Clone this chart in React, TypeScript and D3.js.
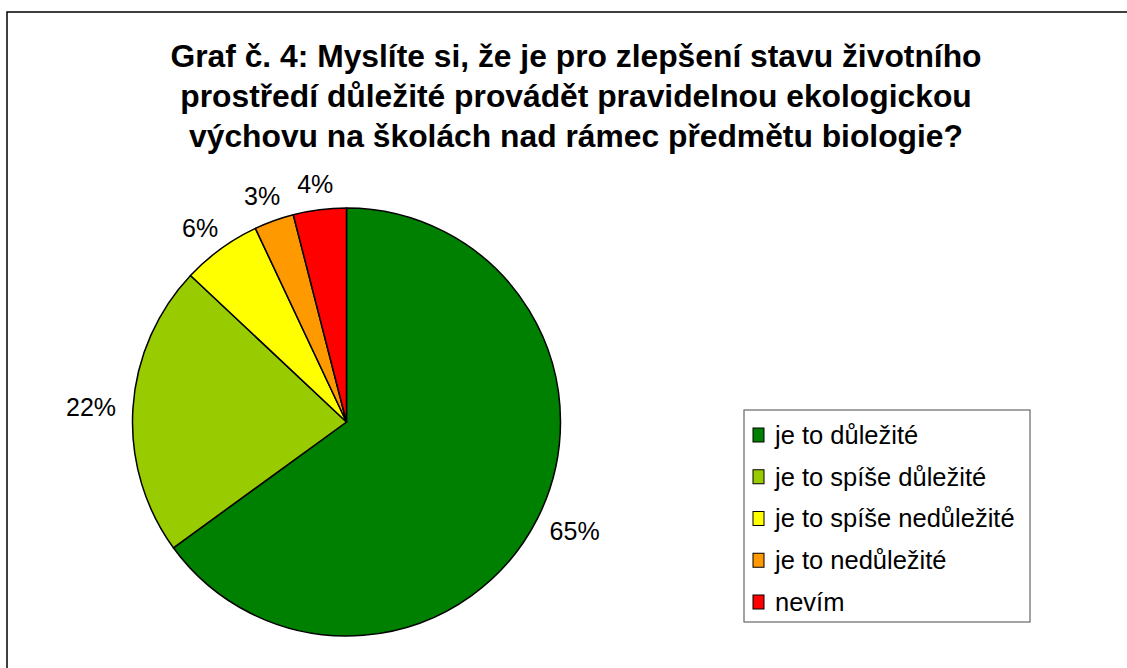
import React from "react";
import * as d3 from "d3";

const categories = [
  "je to důležité",
  "je to spíše důležité",
  "je to spíše nedůležité",
  "je to nedůležité",
  "nevím",
];
const values = [65, 22, 6, 3, 4];
const colors = ["#008000", "#99CC00", "#FFFF00", "#FF9900", "#FF0000"];
const titleLines = [
  "Graf č. 4: Myslíte si, že je pro zlepšení stavu životního",
  "prostředí důležité provádět pravidelnou ekologickou",
  "výchovu na školách nad rámec předmětu biologie?",
];

const W = 1127;
const H = 668;
const cx = 346.5;
const cy = 422;
const R = 214;
const FONT = "'Liberation Sans', Arial, sans-serif";

export default function App() {
  const pie = d3.pie<number>().sort(null).value((d) => d);
  const arcs = pie(values);
  const arcGen = d3.arc<d3.PieArcDatum<number>>().innerRadius(0).outerRadius(R);

  const labelFont = 25;
  const labelPos = (a: d3.PieArcDatum<number>, text: string) => {
    const mid = (a.startAngle + a.endAngle) / 2;
    const s = Math.sin(mid);
    const c = Math.cos(mid);
    const gap = 17;
    const nd = text.length - 1;
    const halfW = (nd * 0.556 + 0.889) * labelFont / 2;
    const halfH = 9;
    return {
      x: (R + gap) * s + s * halfW,
      y: -(R + gap) * c - c * halfH,
    };
  };

  const legendX = 744;
  const legendY = 410;
  const legendW = 286;
  const legendH = 212;
  const rowStart = 435;
  const rowStep = 41.75;

  return (
    <svg
      width={W}
      height={H}
      style={{ position: "absolute", left: 0, top: 0, background: "#fff" }}
    >
      <rect x={0} y={0} width={W} height={H} fill="#fff" />
      <rect x={7} y={12} width={W} height={H} fill="none" stroke="#000" strokeWidth={1.5} />
      <g fontFamily={FONT} fontWeight="bold" fontSize={31.8} textAnchor="middle" fill="#000">
        {titleLines.map((t, i) => (
          <text key={i} x={576} y={67 + i * 40}>
            {t}
          </text>
        ))}
      </g>
      <g transform={`translate(${cx},${cy})`}>
        {arcs.map((a, i) => (
          <path
            key={i}
            d={arcGen(a) || ""}
            fill={colors[i]}
            stroke="#000"
            strokeWidth={1.5}
            strokeLinejoin="round"
          />
        ))}
        {arcs.map((a, i) => {
          const t = `${values[i]}%`;
          const p = labelPos(a, t);
          return (
            <text
              key={"l" + i}
              x={p.x}
              y={p.y}
              dy="0.35em"
              textAnchor="middle"
              fontFamily={FONT}
              fontSize={labelFont}
              fill="#000"
            >
              {t}
            </text>
          );
        })}
      </g>
      <rect
        x={legendX}
        y={legendY}
        width={legendW}
        height={legendH}
        fill="#fff"
        stroke="#666"
        strokeWidth={1.2}
      />
      {categories.map((c, i) => {
        const yc = rowStart + i * rowStep;
        return (
          <g key={c}>
            <rect
              x={753}
              y={yc - 7}
              width={11}
              height={14}
              fill={colors[i]}
              stroke="#000"
              strokeWidth={1}
            />
            <text
              x={775}
              y={yc}
              dy="0.35em"
              fontFamily={FONT}
              fontSize={25.5}
              fill="#000"
            >
              {c}
            </text>
          </g>
        );
      })}
    </svg>
  );
}
